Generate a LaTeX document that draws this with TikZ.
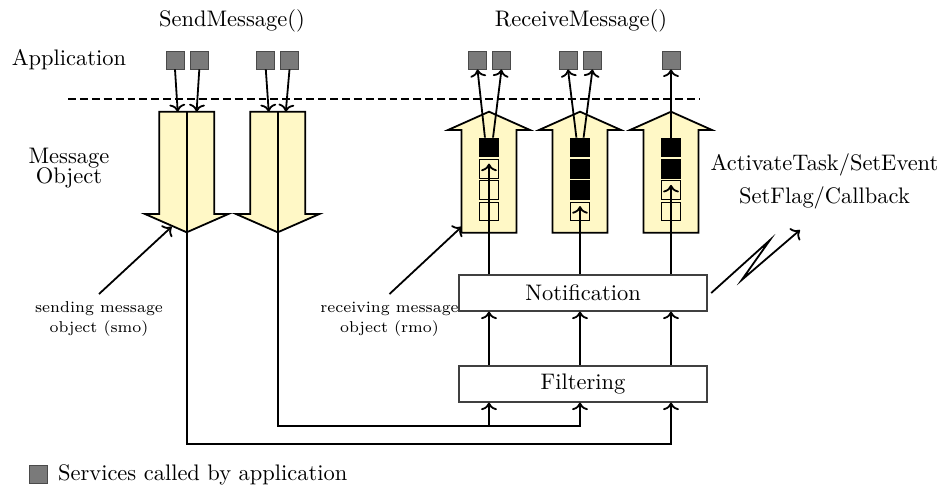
\documentclass[tikz,border=0pt]{standalone}
\usepackage{tikz}
\usetikzlibrary{arrows.meta,positioning}
\definecolor{msgyellow}{HTML}{FFF8C6}
\definecolor{svcgray}{HTML}{7A7A7A}
\definecolor{edgegray}{HTML}{4A4A4A}
% block arrows of the message objects (x = centre)
\newcommand{\sendobj}[1]{\draw[msgobj] (#1-27.5,111.7) -- (#1+27.5,111.7) -- (#1+27.5,214) -- (#1+41.7,214) -- (#1,232.3) -- (#1-41.7,214) -- (#1-27.5,214) -- cycle;}
\newcommand{\recvobj}[1]{\draw[msgobj] (#1-27.5,232.7) -- (#1+27.5,232.7) -- (#1+27.5,130) -- (#1+41,130) -- (#1,111.7) -- (#1-41,130) -- (#1-27.5,130) -- cycle;}

\begin{document}
\begin{tikzpicture}[
  x=0.445pt,y=-0.445pt,
  svc/.style={draw=edgegray,fill=svcgray,minimum size=8pt,inner sep=0pt},
  slot/.style={draw=black,thin,minimum size=8.4pt,inner sep=0pt},
  full/.style={slot,fill=black},
  layer/.style={draw=black!75,line width=0.5pt,minimum width=110.4pt,minimum height=16pt,inner sep=0pt},
  msgobj/.style={draw=black,thick,fill=msgyellow},
  arr/.style={->,thick},
  sep/.style={thick,dash pattern=on 3.5pt off 1.8pt},
  lbl/.style={font=\scriptsize,align=center}
]
\useasboundingbox (0,0) rectangle (944,487);

% titles
\node (send) at (232,21) {SendMessage()};
\node (recv) at (581,21) {ReceiveMessage()};
\node (app) at (69,60) {Application};
\node[align=center] (mobj) at (69,168) {Message\\[-3.1pt]Object};
\node[align=center] (task) at (824.5,181.4) {ActivateTask/SetEvent\\[2.5pt]SetFlag/Callback};

% services
\node[svc] (a1) at (175,60) {};
\node[svc] (a2) at (199.3,60) {};
\node[svc] (a3) at (265.8,60) {};
\node[svc] (a4) at (289.5,60) {};
\node[svc] (a5) at (477.5,60) {};
\node[svc] (a6) at (501.5,60) {};
\node[svc] (a7) at (568,60) {};
\node[svc] (a8) at (592.5,60) {};
\node[svc] (a9) at (671,60) {};

\draw[sep] (68,99) -- (700,99);

% message objects
\sendobj{186.7}
\sendobj{277.7}
\recvobj{489}
\recvobj{580}
\recvobj{671}
\coordinate (s1) at (186.7,111.7);
\coordinate (s2) at (277.7,111.7);
\coordinate (smotip) at (171.7,226.7);
\coordinate (rmotip) at (461.7,226.7);

% queues
\node[full] (q11) at (489,147.5) {};
\node[slot] (q12) at (489,169) {};
\node[slot] (q13) at (489,190.3) {};
\node[slot] (q14) at (489,211.5) {};
\node[full] (q21) at (580,147.5) {};
\node[full] (q22) at (580,169) {};
\node[full] (q23) at (580,190.3) {};
\node[slot] (q24) at (580,211.5) {};
\node[full] (q31) at (671,147.5) {};
\node[full] (q32) at (671,169) {};
\node[slot] (q33) at (671,190.3) {};
\node[slot] (q34) at (671,211.5) {};

% layers
\node[layer] (notif) at (583,293) {Notification};
\node[layer] (filt) at (583,384) {Filtering};

% labels
\node[lbl,anchor=north] (smo) at (99,294) {sending message\\[0.9pt]object (smo)};
\node[lbl,anchor=north] (rmo) at (389.5,294) {receiving message\\[0.9pt]object (rmo)};
\draw[arr] (smo.north) -- (smotip);
\draw[arr] (rmo.north) -- (rmotip);

% application -> sending objects
\draw[arr] (a1.south) -- ([xshift=-4pt]s1);
\draw[arr] (a2.south) -- ([xshift=4.4pt]s1);
\draw[arr] (a3.south) -- ([xshift=-4pt]s2);
\draw[arr] (a4.south) -- ([xshift=3.6pt]s2);

% receiving objects -> application
\draw[arr] ([xshift=-1.8pt]q11.north) -- (a5.south);
\draw[arr] ([xshift=1.8pt]q11.north) -- (a6.south);
\draw[arr] ([xshift=-1.6pt]q21.north) -- (a7.south);
\draw[arr] ([xshift=1.6pt]q21.north) -- (a8.south);
\draw[arr] (q31.north) -- (a9.south);

% sending objects -> filtering
\coordinate (bus1) at (671,444);
\coordinate (bus2) at (580,425.7);
\draw[arr] (s1) |- (bus1) -- (filt.south -| bus1);
\draw[arr] (s2) |- (bus2) -- (filt.south -| bus2);
\draw[arr] (bus2 -| q14) -- (filt.south -| q14);

% filtering -> notification -> queues
\draw[arr] (filt.north -| q14) -- (notif.south -| q14);
\draw[arr] (filt.north -| q24) -- (notif.south -| q24);
\draw[arr] (filt.north -| q34) -- (notif.south -| q34);
\draw[arr] (notif.north -| q14) -- ([yshift=-2pt]q12.north);
\draw[arr] (notif.north -| q24) -- ([yshift=-2pt]q24.north);
\draw[arr] (notif.north -| q34) -- ([yshift=-2pt]q33.north);

% notification event
\coordinate (zig1) at (770,240);
\coordinate (zig2) at (741.7,280);
\coordinate (evt) at (800,230);
\draw[arr] ([xshift=1.6pt]notif.east) -- (zig1) -- (zig2) -- (evt);

% key
\node[svc] (key) at (38.5,474.5) {};
\node[right=1pt of key] (keytxt) {Services called by application};
\end{tikzpicture}
\end{document}
